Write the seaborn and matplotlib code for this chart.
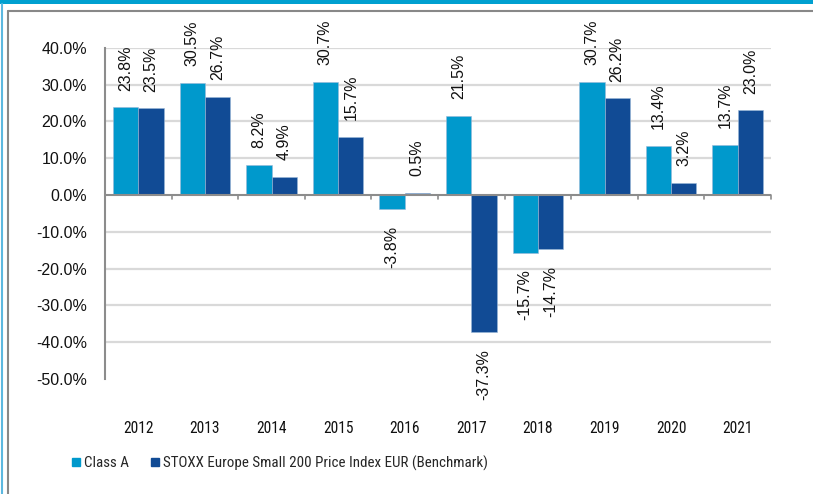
import numpy as np
import pandas as pd
import matplotlib.pyplot as plt
import seaborn as sns
from matplotlib import font_manager
from matplotlib.lines import Line2D
from matplotlib.patches import Rectangle

years = ["2012", "2013", "2014", "2015", "2016", "2017", "2018", "2019", "2020", "2021"]
class_a = [23.8, 30.5, 8.2, 30.7, -3.8, 21.5, -15.7, 30.7, 13.4, 13.7]
benchmark = [23.5, 26.7, 4.9, 15.7, 0.5, -37.3, -14.7, 26.2, 3.2, 23.0]
series_names = ["Class A", "STOXX Europe Small 200 Price Index EUR (Benchmark)"]
colors = ["#0099CC", "#114B95"]
y_ticks = [40, 30, 20, 10, 0, -10, -20, -30, -40, -50]

df = pd.DataFrame({
    "year": years * 2,
    "value": class_a + benchmark,
    "series": [series_names[0]] * len(years) + [series_names[1]] * len(years),
})

sns.set_style("white")
plt.rcParams["font.family"] = ["Liberation Sans", "DejaVu Sans"]

# a narrow face for the category labels and legend, if one is installed
names = {f.name for f in font_manager.fontManager.ttflist}
narrow = next((n for n in ["Liberation Sans Narrow", "Arial Narrow", "Roboto Condensed",
                           "Open Sans Condensed"] if n in names), None)
if narrow:
    year_font = {"family": narrow, "size": 11.2}
    legend_font = {"family": narrow, "size": 10.8}
else:
    year_font = {"family": "Liberation Sans", "size": 11}
    legend_font = {"family": "Liberation Sans", "size": 10}

fig = plt.figure(figsize=(8.13, 4.94), dpi=100)
ax = fig.add_axes([105 / 813, 1 - 379 / 494, (771 - 105) / 813, (379 - 47.7) / 494])

sns.barplot(data=df, x="year", y="value", hue="series", palette=colors,
            width=0.76, gap=0, saturation=1, ax=ax, legend=False,
            edgecolor="#9ab8d8", linewidth=0.4)

ax.set_xlim(-0.5, 9.5)
ax.set_ylim(-50, 40)

# grid
for t in y_ticks:
    if t in (0, -50):
        continue
    ax.axhline(t, color="#d9d9d9", lw=1.6, zorder=0)
ax.axhline(0, color="#8c8c8c", lw=1.5, zorder=3)

ax.set_yticks(y_ticks)
ax.set_yticklabels([f"{t:.1f}%" for t in y_ticks], fontsize=11.5, color="#111111")
ax.tick_params(axis="y", direction="out", length=4, width=1.2, color="#8c8c8c", pad=9)

for s in ["top", "right", "bottom"]:
    ax.spines[s].set_visible(False)
ax.spines["left"].set_color("#8c8c8c")
ax.spines["left"].set_linewidth(1.5)

ax.set_xticks(np.arange(-0.5, 10, 1))
ax.set_xticklabels([])
ax.tick_params(axis="x", direction="out", length=0)
for b in np.arange(0.5, 10, 1):
    ax.plot([b, b], [0, -1.2], color="#8c8c8c", lw=1.2, zorder=3, clip_on=False)

ax.set_xlabel("")
ax.set_ylabel("")

tr = ax.get_xaxis_transform()
for i, y in enumerate(years):
    ax.text(i, -0.148, y, transform=tr, ha="center", va="center",
            color="#111111", **year_font)

# data labels
for container in ax.containers:
    for bar in container:
        h = bar.get_height()
        x = bar.get_x() + bar.get_width() / 2
        off = 12 if h >= 0 else -12
        ax.annotate(f"{h:.1f}%", (x, h), xytext=(0, off), textcoords="offset points",
                    rotation=90, ha="center", va="bottom" if h >= 0 else "top",
                    fontsize=11.5, color="#111111", annotation_clip=False)

handles = [Line2D([], [], marker="s", ls="", color=c, markersize=5.5) for c in colors]
fig.legend(handles, series_names, loc="center left", bbox_to_anchor=(58 / 813, 1 - 463 / 494),
           ncol=2, frameon=False, handlelength=0.6, handletextpad=0.2, columnspacing=1.5,
           prop=legend_font)

# frame decoration
fig.add_artist(Rectangle((0, 1 - 4 / 494), 1, 4 / 494, transform=fig.transFigure,
                         color="#00A0D0", lw=0))
fig.add_artist(Line2D([0.0025, 0.0025], [0, 1 - 4 / 494], transform=fig.transFigure,
                      color="#5BB8E0", lw=1.5))
fig.add_artist(Line2D([7.8 / 813, 7.8 / 813], [0, 1 - 11.5 / 494], transform=fig.transFigure,
                      color="#888888", lw=1.5))
fig.add_artist(Line2D([7.8 / 813, 1], [1 - 11.5 / 494, 1 - 11.5 / 494], transform=fig.transFigure,
                      color="#888888", lw=1.5))

fig.savefig("out.png", dpi=100)
